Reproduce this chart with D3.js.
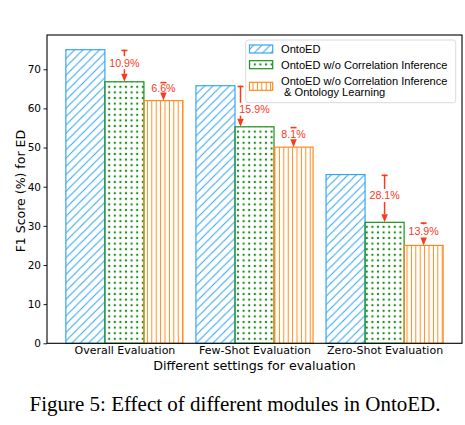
<!DOCTYPE html>
<html>
<head>
<meta charset="utf-8">
<script src="https://cdn.jsdelivr.net/npm/d3@7"></script>
<style>
  body { margin: 0; background: #fff; }
  svg { display: block; }
</style>
</head>
<body>
<div id="chart"></div>
<script>
// data
const settings = ['Overall Evaluation', 'Few-Shot Evaluation', 'Zero-Shot Evaluation'];
const seriesNames = ['OntoED', 'OntoED w/o Correlation Inference', 'OntoED w/o Correlation Inference\n & Ontology Learning'];
const ontoED = [75.0, 65.8, 43.1];
const noCorr = [66.8, 55.3, 30.9];
const noCorrOnto = [62.0, 50.1, 25.0];
const yTicks = [0, 10, 20, 30, 40, 50, 60, 70];

// drop annotations: group, from series, to series, label
const annGroup = [0, 0, 1, 1, 2, 2];
const annFrom = [0, 1, 0, 1, 0, 1];
const annTo = [1, 2, 1, 2, 1, 2];
const annLabel = ['10.9%', '6.6%', '15.9%', '8.1%', '28.1%', '13.9%'];

const series = [ontoED, noCorr, noCorrOnto];
const colors = ['#35a7f0', '#1a911a', '#ff8a1e'];
const red = '#fa3a1c';

const W = 465, H = 425;
const plot = { left: 47, right: 462, top: 35, bottom: 343.3 };
const barW = 0.3;

const svg = d3.select('#chart').append('svg')
  .attr('width', W)
  .attr('height', H);

const defs = svg.append('defs');

// hatches
const pBlue = defs.append('pattern')
  .attr('id', 'hatch0')
  .attr('patternUnits', 'userSpaceOnUse')
  .attr('width', 8.3).attr('height', 8.3);
pBlue.append('path')
  .attr('d', 'M0,8.3 L8.3,0 M-2,2 L2,-2 M6.3,10.3 L10.3,6.3')
  .attr('stroke', colors[0]).attr('stroke-width', 1.1);

const pGreen = defs.append('pattern')
  .attr('id', 'hatch1')
  .attr('patternUnits', 'userSpaceOnUse')
  .attr('width', 5.6).attr('height', 5.6);
pGreen.append('circle')
  .attr('cx', 2.8).attr('cy', 2.8).attr('r', 1.15)
  .attr('fill', colors[1]);

const pOrange = defs.append('pattern')
  .attr('id', 'hatch2')
  .attr('patternUnits', 'userSpaceOnUse')
  .attr('width', 4.4).attr('height', 10);
pOrange.append('line')
  .attr('x1', 2.2).attr('x2', 2.2).attr('y1', 0).attr('y2', 10)
  .attr('stroke', colors[2]).attr('stroke-width', 1);

const x = d3.scaleLinear()
  .domain([-0.595, 2.595])
  .range([plot.left, plot.right]);

const y = d3.scaleLinear()
  .domain([0, 78.75])
  .range([plot.bottom, plot.top]);

// bars
series.forEach((vals, s) => {
  const off = (s - 1) * barW;
  const g = svg.append('g');
  g.selectAll('rect')
    .data(vals)
    .enter()
    .append('rect')
      .attr('x', (d, i) => x(i + off - barW / 2))
      .attr('y', d => y(d))
      .attr('width', x(barW) - x(0))
      .attr('height', d => y(0) - y(d))
      .attr('fill', `url(#hatch${s})`)
      .attr('stroke', colors[s])
      .attr('stroke-width', 1.2);
});

// y axis
const yAxis = svg.append('g')
  .attr('transform', `translate(${plot.left},0)`)
  .call(d3.axisLeft(y).tickValues(yTicks).tickSize(3.5).tickPadding(2.5));
yAxis.select('.domain').remove();
yAxis.selectAll('text')
  .style('font-family', 'DejaVu Sans')
  .style('font-size', '10.5px')
  .attr('fill', '#000');
yAxis.selectAll('line').attr('stroke', '#000').attr('stroke-width', 0.9);

// x axis labels
const xAxis = svg.append('g')
  .attr('transform', `translate(0,${plot.bottom})`)
  .call(d3.axisBottom(x).tickValues([0, 1, 2]).tickSize(0).tickPadding(3)
    .tickFormat(i => settings[i]));
xAxis.select('.domain').remove();
xAxis.selectAll('text')
  .style('font-family', 'DejaVu Sans')
  .style('font-size', '11px')
  .attr('fill', '#000');

// frame
svg.append('rect')
  .attr('x', plot.left).attr('y', plot.top)
  .attr('width', plot.right - plot.left)
  .attr('height', plot.bottom - plot.top)
  .attr('fill', 'none')
  .attr('stroke', '#000')
  .attr('stroke-width', 1.1);

// axis titles
svg.append('text')
  .attr('x', (plot.left + plot.right) / 2)
  .attr('y', 369.5)
  .attr('text-anchor', 'middle')
  .style('font-family', 'DejaVu Sans')
  .style('font-size', '12.7px')
  .text('Different settings for evaluation');

svg.append('text')
  .attr('transform', `translate(24.5,${(plot.top + plot.bottom) / 2 + 2}) rotate(-90)`)
  .attr('text-anchor', 'middle')
  .style('font-family', 'DejaVu Sans')
  .style('font-size', '12.5px')
  .text('F1 Score (%) for ED');

// drop annotations
const annShiftX = [0, 0, -14, 0, 0, 0];
const annShiftY = [0, 0, 6, 0, 0, 0];
const ann = svg.append('g');
annGroup.forEach((gi, k) => {
  const from = series[annFrom[k]][gi];
  const to = series[annTo[k]][gi];
  const cx = x(gi + (annTo[k] - 1) * barW) + annShiftX[k];
  const tx = x(gi + (annTo[k] - 1) * barW);
  const y0 = y(from), y1 = y(to);
  const ty = (y0 + y1) / 2 - 3 + annShiftY[k];
  // cap
  ann.append('line')
    .attr('x1', cx - 3).attr('x2', cx + 3)
    .attr('y1', y0 + 0.8).attr('y2', y0 + 0.8)
    .attr('stroke', red).attr('stroke-width', 1.6);
  // upper stem
  if (ty - 6.5 > y0 + 1) {
    ann.append('line')
      .attr('x1', cx).attr('x2', cx)
      .attr('y1', y0).attr('y2', ty - 6.5)
      .attr('stroke', red).attr('stroke-width', 1.5);
  }
  // lower stem + head
  const headTop = y1 - 8;
  if (headTop > ty + 6.5) {
    ann.append('line')
      .attr('x1', cx).attr('x2', cx)
      .attr('y1', ty + 6.5).attr('y2', headTop)
      .attr('stroke', red).attr('stroke-width', 1.5);
  }
  ann.append('path')
    .attr('d', `M${cx - 3.2},${headTop} L${cx + 3.2},${headTop} L${cx},${y1} Z`)
    .attr('fill', red);
  ann.append('text')
    .attr('x', tx)
    .attr('y', ty + 3.9)
    .attr('text-anchor', 'middle')
    .style('font-family', 'Liberation Sans, Arial, sans-serif')
    .style('font-size', '10.7px')
    .attr('fill', red)
    .text(annLabel[k]);
});

// legend
const lg = svg.append('g');
lg.append('rect')
  .attr('x', 245.7).attr('y', 40)
  .attr('width', 210).attr('height', 62.7)
  .attr('rx', 2.5)
  .attr('fill', '#fff').attr('fill-opacity', 0.85)
  .attr('stroke', '#d6d6d6').attr('stroke-width', 0.9);

const rowY = [49, 64.7, 86.3];
seriesNames.forEach((name, s) => {
  lg.append('rect')
    .attr('x', 249.5).attr('y', rowY[s] - 4)
    .attr('width', 23.2).attr('height', 8)
    .attr('fill', `url(#hatch${s})`)
    .attr('stroke', colors[s])
    .attr('stroke-width', 1.2);
  const lines = name.split('\n');
  const t = lg.append('text')
    .attr('x', 281)
    .attr('y', rowY[s] + 3.9 - (lines.length - 1) * 5.65)
    .style('font-family', 'Liberation Sans, Arial, sans-serif')
    .style('font-size', '11.1px')
    .style('white-space', 'pre')
    .attr('fill', '#000');
  lines.forEach((ln, j) => {
    t.append('tspan')
      .attr('x', 281)
      .attr('dy', j === 0 ? 0 : 11.3)
      .text(ln);
  });
});

// caption
svg.append('text')
  .attr('x', 235)
  .attr('y', 410.5)
  .attr('text-anchor', 'middle')
  .style('font-family', 'Liberation Serif, Times New Roman, serif')
  .style('font-size', '21px')
  .text('Figure 5: Effect of different modules in OntoED.');
</script>
</body>
</html>
